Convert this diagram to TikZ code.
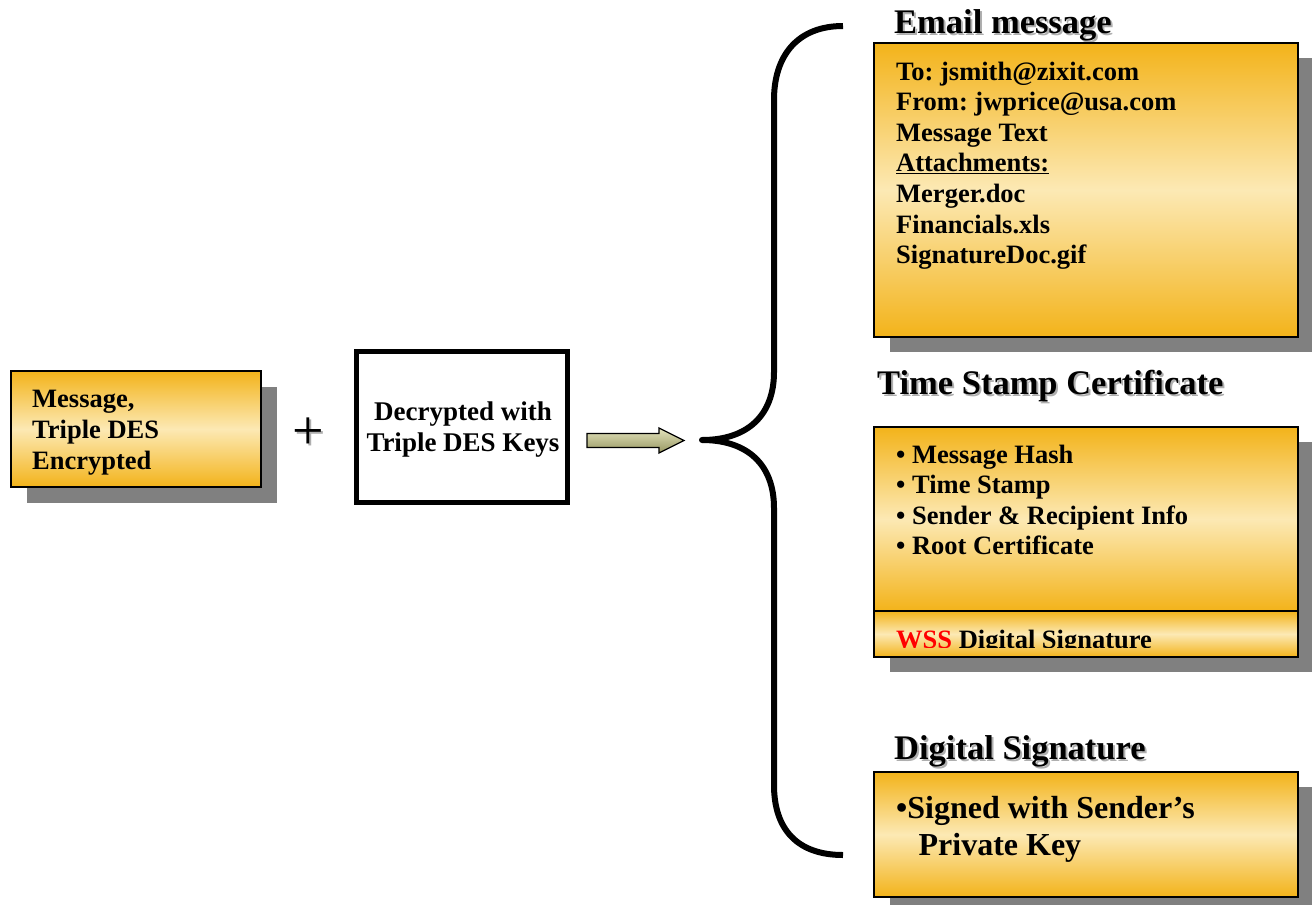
\documentclass[tikz,border=0pt]{standalone}
\usepackage{fontspec}
\setmainfont{Liberation Serif}
\frenchspacing
\definecolor{gdark}{RGB}{243,179,26}
\definecolor{glight}{RGB}{252,233,180}
\definecolor{shadowgray}{RGB}{128,128,128}
\definecolor{tshadow}{RGB}{175,175,175}
\definecolor{akhaki}{RGB}{228,228,190}
\definecolor{aolive}{RGB}{150,150,96}
\definecolor{wssred}{RGB}{255,0,0}
\begin{document}
\begin{tikzpicture}[x=1pt,y=-1pt,
  gbox/.style={draw=black, line width=1.8pt, top color=gdark, bottom color=gdark, middle color=glight, inner sep=0pt},
  shadowbox/.style={fill=shadowgray},
  body/.style={font=\fontsize{26.5}{30.6}\selectfont\bfseries\frenchspacing, anchor=base west, inner sep=0pt, align=left},
  title/.style={font=\fontsize{34.5}{40}\selectfont\bfseries, anchor=base west, inner sep=0pt},
  tshade/.style={title, text=tshadow},
  brace/.style={line width=6pt, line join=round},
  arrowshape/.style={draw=black, line width=1.3pt, top color=akhaki, bottom color=aolive}
]
\useasboundingbox (0,0) rectangle (1312,905);

% ---------- shadows ----------
\fill[shadowbox] (27,387) rectangle (277,503);
\fill[shadowbox] (890,58) rectangle (1312,352);
\fill[shadowbox] (890,442) rectangle (1312,672);
\fill[shadowbox] (890,787) rectangle (1312,905);

% ---------- left box ----------
\node[gbox, minimum width=250, minimum height=116] (msg) at (136,429) {};
\node[body, font=\fontsize{26.5}{31}\selectfont\bfseries\frenchspacing] (msgtext) at (32,469) {Message,\\Triple DES\\Encrypted};

% ---------- plus ----------
\node[font=\fontsize{56}{60}\selectfont, text=tshadow, inner sep=0pt] (plusshadow) at (310,436) {+};
\node[font=\fontsize{56}{60}\selectfont, inner sep=0pt] (plus) at (308,434) {+};

% ---------- decrypt box ----------
\node[draw=black, line width=5pt, fill=white, minimum width=211, minimum height=151, inner sep=0pt] (dec) at (461.5,426.5) {};
\node[font=\fontsize{27}{31}\selectfont\bfseries, anchor=base, inner sep=0pt, align=center] (dectext) at (463,451) {Decrypted with\\Triple DES Keys};

% ---------- arrow ----------
\coordinate (atail) at (587,440.5);
\coordinate (atip) at (684,440.5);
\shade[arrowshape] (587,433.5) -- (659,433.5) -- (659,428) -- (atip) -- (659,453) -- (659,447.5) -- (587,447.5) -- cycle;

% ---------- brace ----------
\coordinate (btop) at (843,26);
\coordinate (btip) at (702,440);
\coordinate (bbot) at (843,855);
\draw[brace] (btop) .. controls (798,26) and (774,55) .. (774,100)
  -- (774,372) .. controls (774,415) and (748,440) .. (btip)
  .. controls (748,440) and (774,465) .. (774,508)
  -- (774,785) .. controls (774,830) and (798,855) .. (bbot);

% ---------- email box ----------
\node[tshade] (emailtitleshadow) at (896,35) {Email message};
\node[title] (emailtitle) at (894,33) {Email message};
\node[gbox, minimum width=424, minimum height=294] (email) at (1086,190) {};
\node[body] (emailtext) at (896,263.6) {To: jsmith@zixit.com\\From: jwprice@usa.com\\Message Text\\\underline{Attachments:}\\Merger.doc\\Financials.xls\\SignatureDoc.gif};

% ---------- time stamp ----------
\node[tshade] (tstitleshadow) at (879,396) {Time Stamp Certificate};
\node[title] (tstitle) at (877,394) {Time Stamp Certificate};
\node[gbox, minimum width=424, minimum height=184] (ts) at (1086,519) {};
\node[gbox, minimum width=424, minimum height=46] (wss) at (1086,634) {};
\node[body] (tstext) at (896,554.8) {\textbullet\ Message Hash\\\textbullet\ Time Stamp\\\textbullet\ Sender \& Recipient Info\\\textbullet\ Root Certificate};
\begin{scope}
  \clip (876,612) rectangle (1296,647.5);
  \node[body] (wsstext) at (896,648) {\textcolor{wssred}{WSS} Digital Signature};
\end{scope}

% ---------- digital signature ----------
\node[tshade] (dstitleshadow) at (896,761) {Digital Signature};
\node[title] (dstitle) at (894,759) {Digital Signature};
\node[gbox, minimum width=424, minimum height=125] (ds) at (1086,834.5) {};
\node[font=\fontsize{32}{37}\selectfont\bfseries, anchor=base west, inner sep=0pt, align=left] (dstext) at (896,855) {\textbullet Signed with Sender’s\\\hspace*{0.7em}Private Key};
\end{tikzpicture}
\end{document}
